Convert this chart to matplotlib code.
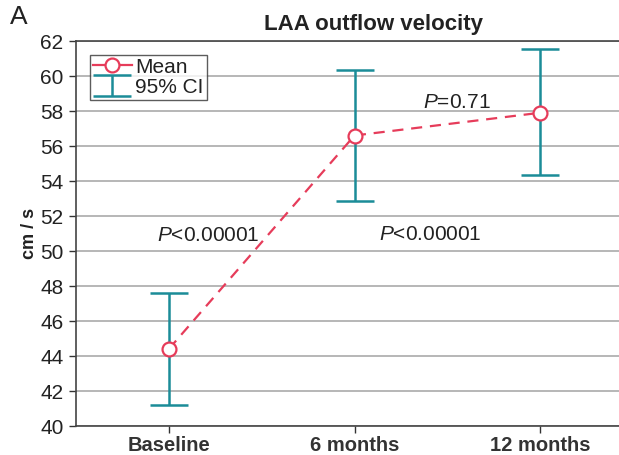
import matplotlib.pyplot as plt
from matplotlib.lines import Line2D

plt.rcParams['font.family'] = ['Liberation Sans', 'DejaVu Sans']
plt.rcParams['mathtext.fontset'] = 'custom'
plt.rcParams['mathtext.rm'] = 'Liberation Sans'
plt.rcParams['mathtext.it'] = 'Liberation Sans:italic'

groups = ["Baseline", "6 months", "12 months"]
mean_vel = [44.4, 56.6, 57.9]
ci_low = [41.2, 52.85, 54.35]
ci_high = [47.6, 60.35, 61.55]

red = '#e63c5a'
teal = '#1b8c98'
txt = '#222222'

fig = plt.figure(figsize=(6.19, 4.55), dpi=100)
ax = fig.add_axes([76 / 619, 1 - 426 / 455, 557 / 619, 385 / 455])

x = list(range(1, len(groups) + 1))
err = [[m - lo for m, lo in zip(mean_vel, ci_low)],
       [hi - m for m, hi in zip(mean_vel, ci_high)]]

ci = ax.errorbar(x, mean_vel, yerr=err, fmt='none', ecolor=teal, elinewidth=1.8,
                 capsize=14, capthick=1.8, zorder=3)
ax.plot(x, mean_vel, color=red, linestyle=(0, (5, 3.5)), linewidth=1.6,
        marker='o', markersize=10, markerfacecolor='white',
        markeredgecolor=red, markeredgewidth=1.6, zorder=4)

ax.set_xlim(0.5, 3.5)
ax.set_ylim(40, 62)
ax.set_yticks(range(40, 63, 2))
ax.set_xticks(x)
ax.set_xticklabels(groups, fontsize=14.5, fontweight='bold', color=txt)
ax.tick_params(axis='y', labelsize=15, length=5, width=1, colors='#333333', pad=4)
ax.tick_params(axis='x', length=5, width=1, colors='#333333', pad=2)
for lbl in ax.get_yticklabels():
    lbl.set_color(txt)

ax.grid(axis='y', color='#aaaaaa', linewidth=1.2)
ax.set_axisbelow(True)
for s in ['left', 'bottom', 'top']:
    ax.spines[s].set_color('#444444')
    ax.spines[s].set_linewidth(1.2)
ax.spines['right'].set_visible(False)

ax.set_ylabel("cm / s", fontsize=13, fontweight='bold', color=txt)
ax.yaxis.set_label_coords((38 - 76) / 557, 0.5)
ax.set_title("LAA outflow velocity", fontsize=16, fontweight='bold',
             color=txt, pad=8, x=(374 - 76) / 557)
fig.text(10 / 619, 1 - 17 / 455, "A", fontsize=19, va='center', ha='left', color=txt)

ax.text(1.215, 50.9, r"$\it{P}$<0.00001", fontsize=15, ha='center', va='center', color=txt)
ax.text(2.41, 50.95, r"$\it{P}$<0.00001", fontsize=15, ha='center', va='center', color=txt)
ax.text(2.55, 58.5, r"$\it{P}$=0.71", fontsize=15, ha='center', va='center', color=txt)

mean_handle = Line2D([], [], color=red, linewidth=1.6, marker='o', markersize=10,
                     markerfacecolor='white', markeredgecolor=red, markeredgewidth=1.6)
leg = ax.legend([mean_handle, ci], ["Mean", "95% CI"], loc='upper left', fontsize=15,
                frameon=True, fancybox=False, edgecolor='#333333',
                borderpad=0.15, handlelength=1.9, handletextpad=0.15,
                labelspacing=0.05, borderaxespad=0.65)
leg.get_frame().set_linewidth(1.0)
for t in leg.get_texts():
    t.set_color(txt)

fig.savefig('out.png', dpi=100)
